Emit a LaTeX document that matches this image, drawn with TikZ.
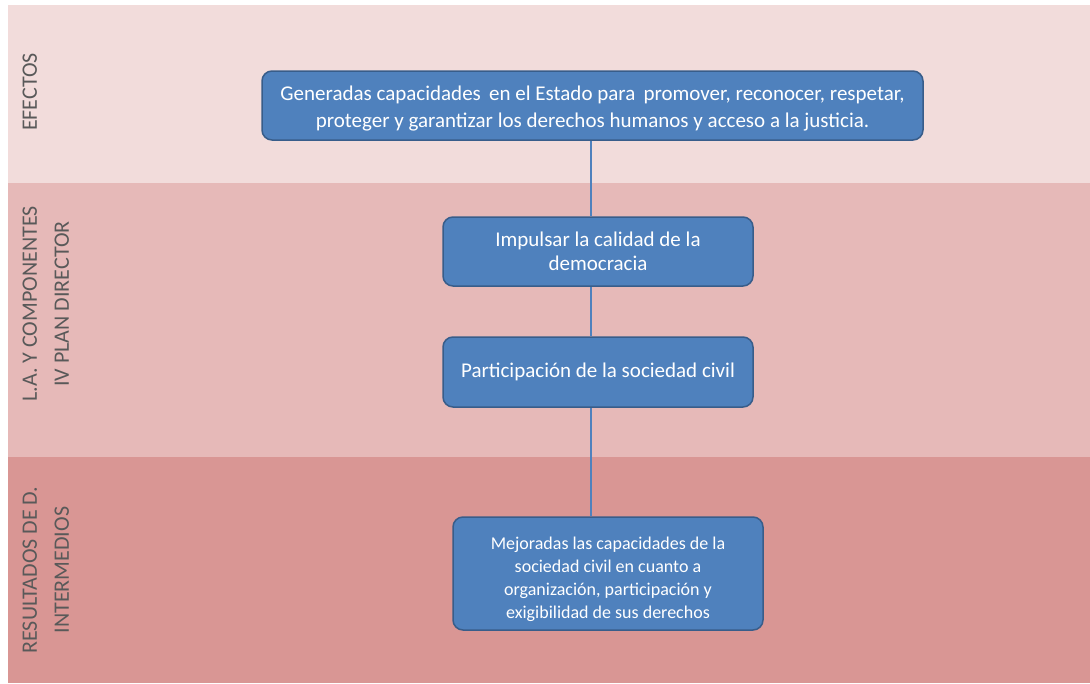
\documentclass[tikz,border=0pt]{standalone}
\usepackage{fontspec}
\setmainfont{Carlito}
\usetikzlibrary{positioning}
\definecolor{bandA}{HTML}{F2DCDB}
\definecolor{bandB}{HTML}{E6B9B8}
\definecolor{bandC}{HTML}{D99694}
\definecolor{boxfill}{HTML}{4F81BD}
\definecolor{boxline}{HTML}{385D8A}
\definecolor{labelgrey}{HTML}{595959}

\begin{document}
\begin{tikzpicture}[x=1pt, y=-1pt,
  box/.style = {draw=boxline, line width=1.5pt, fill=boxfill, rounded corners=10pt,
                text=white, align=center, inner sep=0pt},
  rowlabel/.style = {rotate=90, anchor=north, text=labelgrey, align=center,
                     font=\fontsize{22}{32}\selectfont},
  link/.style = {draw=boxfill, line width=1.2pt}]
  \useasboundingbox (0,0) rectangle (1090,683);
  % Bands
  \fill[bandA] (8,5) rectangle (1090,183);
  \fill[bandB] (8,183) rectangle (1090,457);
  \fill[bandC] (8,457) rectangle (1090,683);
  % Row labels
  \node[rowlabel] (efectos) at (19,92) {EFECTOS};
  \node[rowlabel] (lineas) at (19,304) {L.A. Y COMPONENTES\\IV PLAN DIRECTOR};
  \node[rowlabel] (resultados) at (19,570) {RESULTADOS DE D.\\INTERMEDIOS};
  % Boxes
  \node[box, minimum width=661pt, minimum height=69pt, font=\fontsize{21}{27}\selectfont] (gen) at (592.5,105.5)
    {\rule{0pt}{21pt}Generadas capacidades\, en el Estado para\, promover, reconocer, respetar,\\proteger y garantizar los derechos humanos y acceso a la justicia.};
  \node[box, minimum width=310pt, minimum height=69pt, font=\fontsize{21}{24}\selectfont] (imp) at (598,251.5)
    {Impulsar la calidad de la\\democracia};
  \node[box, minimum width=310pt, minimum height=70pt, font=\fontsize{21}{24}\selectfont] (par) at (598,372)
    {Participación de la sociedad civil};
  \node[box, minimum width=310pt, minimum height=113pt, font=\fontsize{18}{23}\selectfont] (mej) at (608,573.5)
    {\rule{0pt}{25pt}Mejoradas las capacidades de la\\sociedad civil en cuanto a\\organización, participación y\\exigibilidad de sus derechos};
  % Connectors
  \coordinate (spine) at (591,0);
  \draw[link] (gen.south -| spine) -- (imp.north -| spine);
  \draw[link] (imp.south -| spine) -- (par.north -| spine);
  \draw[link] (par.south -| spine) -- (mej.north -| spine);
\end{tikzpicture}
\end{document}
